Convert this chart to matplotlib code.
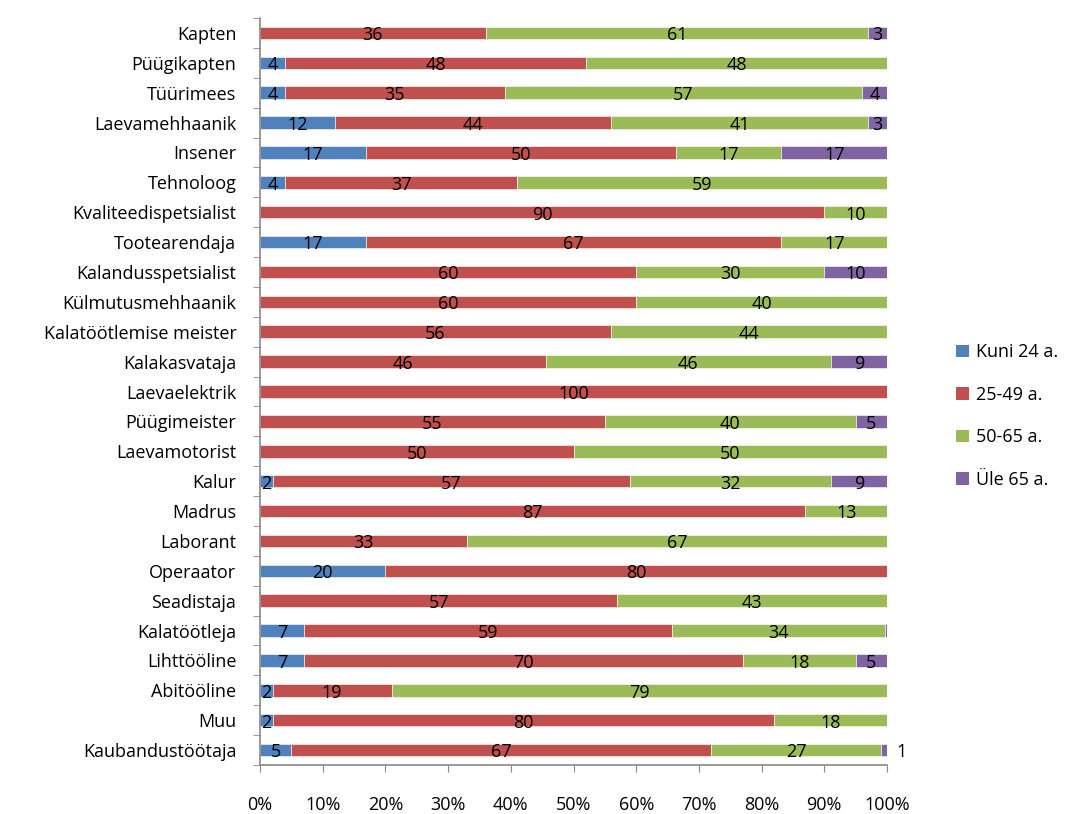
import numpy as np
import matplotlib
matplotlib.use('Agg')
import matplotlib.pyplot as plt
from matplotlib.patches import Patch

plt.rcParams['font.family'] = ['Open Sans', 'DejaVu Sans']

categories = ['Kapten', 'Püügikapten', 'Tüürimees', 'Laevamehhaanik', 'Insener',
              'Tehnoloog', 'Kvaliteedispetsialist', 'Tootearendaja',
              'Kalandusspetsialist', 'Külmutusmehhaanik', 'Kalatöötlemise meister',
              'Kalakasvataja', 'Laevaelektrik', 'Püügimeister', 'Laevamotorist',
              'Kalur', 'Madrus', 'Laborant', 'Operaator', 'Seadistaja',
              'Kalatöötleja', 'Lihttööline', 'Abitööline', 'Muu', 'Kaubandustöötaja']

kuni24 = [0, 4, 4, 12, 17, 4, 0, 17, 0, 0, 0, 0, 0, 0, 0, 2, 0, 0, 20, 0, 7, 7, 2, 2, 5]
a25_49 = [36, 48, 35, 44, 50, 37, 90, 67, 60, 60, 56, 46, 100, 55, 50, 57, 87, 33, 80, 57, 59, 70, 19, 80, 67]
a50_65 = [61, 48, 57, 41, 17, 59, 10, 17, 30, 40, 44, 46, 0, 40, 50, 32, 13, 67, 0, 43, 34, 18, 79, 18, 27]
yle65 = [3, 0, 4, 3, 17, 0, 0, 0, 10, 0, 0, 9, 0, 5, 0, 9, 0, 0, 0, 0, 0.4, 5, 0, 0, 1]

series_names = ['Kuni 24 a.', '25-49 a.', '50-65 a.', 'Üle 65 a.']
colors = ['#4F81BD', '#C0504D', '#9BBB59', '#8064A2']

data = np.array([kuni24, a25_49, a50_65, yle65], dtype=float)
pct = data / data.sum(axis=0) * 100

fig = plt.figure(figsize=(10.67, 8.14), dpi=100)
ax = fig.add_axes([260/1067, 1 - 765/814, 627/1067, 747/814])

y = np.arange(len(categories))
left = np.zeros(len(categories))
fs = 13
for i in range(4):
    ax.barh(y, pct[i], left=left, height=0.42, color=colors[i],
            edgecolor='white', linewidth=0.4)
    for j in range(len(categories)):
        v = data[i, j]
        if v >= 1.5:
            ax.text(left[j] + pct[i, j] / 2, y[j] + 0.08, '%d' % round(v),
                    ha='center', va='center', fontsize=fs, color='black')
        elif v >= 1:
            ax.text(left[j] + pct[i, j] + 1.5, y[j] + 0.08, '%d' % round(v),
                    ha='left', va='center', fontsize=fs, color='black')
    left += pct[i]

ax.set_xlim(0, 100)
ax.set_ylim(len(categories) - 0.5, -0.5)
ax.set_xticks(np.arange(0, 101, 10))
ax.set_xticklabels(['%d%%' % t for t in range(0, 101, 10)], fontsize=fs)
ax.set_yticks(y)
ax.set_yticklabels(categories, fontsize=fs)
ax.set_yticks(np.arange(-0.5, len(categories), 1), minor=True)
ax.tick_params(axis='y', which='major', length=0, pad=17)
ax.tick_params(axis='y', which='minor', length=5, color='#888888', direction='out')
ax.tick_params(axis='x', length=5, color='#888888', direction='out', pad=17)

for s in ['top', 'right']:
    ax.spines[s].set_visible(False)
for s in ['left', 'bottom']:
    ax.spines[s].set_color('#888888')
    ax.spines[s].set_linewidth(1.2)

handles = [Patch(facecolor=c, edgecolor='none') for c in colors]
fig.legend(handles, series_names, loc='center left', bbox_to_anchor=(940/1067, 1 - 416/814),
           frameon=False, fontsize=fs, handlelength=0.7, handleheight=0.7,
           handletextpad=0.4, labelspacing=1.35)

fig.savefig('out.png', dpi=100)
